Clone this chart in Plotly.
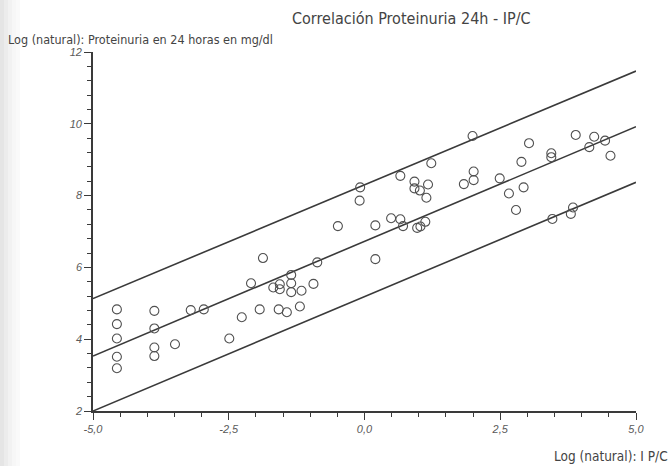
import plotly.graph_objects as go

# Log(natural) IP/C ratio vs. log(natural) 24h proteinuria
ipc_log = [
    -4.56, -4.56, -4.56, -4.56, -4.56,
    -3.87, -3.87, -3.87, -3.87,
    -3.49, -3.20, -2.96, -2.49, -2.26, -2.09, -1.93, -1.87,
    -1.68, -1.58, -1.56, -1.56, -1.43, -1.35, -1.35, -1.35,
    -1.19, -1.16, -0.94, -0.87, -0.49, -0.08, -0.09,
    0.20, 0.20, 0.49, 0.66, 0.66, 0.71, 0.92, 0.92, 0.97, 1.02,
    1.03, 1.12, 1.14, 1.17, 1.23, 1.83, 1.99, 2.01, 2.01,
    2.49, 2.66, 2.79, 2.89, 2.93, 3.03, 3.44, 3.44, 3.46,
    3.80, 3.84, 3.89, 4.14, 4.23, 4.43, 4.53,
]
prot_log = [
    4.83, 4.42, 4.02, 3.51, 3.19,
    4.79, 4.30, 3.77, 3.53,
    3.86, 4.81, 4.83, 4.02, 4.61, 5.56, 4.83, 6.26,
    5.44, 4.83, 5.53, 5.39, 4.75, 5.79, 5.56, 5.31,
    4.91, 5.35, 5.54, 6.14, 7.15, 8.23, 7.86,
    7.17, 6.23, 7.37, 8.55, 7.34, 7.15, 8.39, 8.20, 7.10, 8.14,
    7.14, 7.27, 7.94, 8.31, 8.90, 8.32, 9.66, 8.43, 8.67,
    8.48, 8.06, 7.60, 8.94, 8.23, 9.46, 9.18, 9.07, 7.35,
    7.49, 7.67, 9.69, 9.35, 9.64, 9.53, 9.11,
]

# Regression line and prediction band, evaluated at the axis ends
fit_x = [-5.0, 5.0]
fit_mid = [3.53, 9.92]
fit_upper = [5.13, 11.47]
fit_lower = [2.00, 8.37]

x_major = [-5.0, -2.5, 0.0, 2.5, 5.0]
x_major_text = ["-5,0", "-2,5", "0,0", "2,5", "5,0"]
y_major = [2, 4, 6, 8, 10, 12]
y_major_text = ["2", "4", "6", "8", "10", "12"]

FONT = "DejaVu Sans Condensed"
LINE = "#3a3a3a"
TICKFONT = dict(family="Liberation Sans", size=11, color="#5a5a5a")

fig = go.Figure()

for band in (fit_upper, fit_mid, fit_lower):
    fig.add_trace(go.Scatter(
        x=fit_x, y=band, mode="lines",
        line=dict(color=LINE, width=1.6),
        hoverinfo="skip", showlegend=False,
    ))

fig.add_trace(go.Scatter(
    x=ipc_log, y=prot_log, mode="markers",
    marker=dict(symbol="circle-open", size=9, color="#505050",
                line=dict(width=1.1, color="#505050")),
    showlegend=False,
))

fig.update_xaxes(
    range=[-5, 5], showgrid=False, zeroline=False,
    showline=True, linecolor=LINE, linewidth=1.6,
    ticks="outside", ticklen=7, tickwidth=1.4, tickcolor=LINE,
    tickvals=x_major, ticktext=x_major_text,
    tickfont=dict(TICKFONT, style="italic"),
    minor=dict(dtick=0.5, ticks="outside", ticklen=4, tickwidth=1.2, tickcolor=LINE),
)
fig.update_yaxes(
    range=[2, 12], showgrid=False, zeroline=False,
    showline=True, linecolor=LINE, linewidth=1.6,
    ticks="outside", ticklen=7, tickwidth=1.4, tickcolor=LINE,
    tickvals=y_major, ticktext=y_major_text,
    tickfont=dict(TICKFONT, style="italic"),
    minor=dict(dtick=0.4, tick0=2, ticks="outside", ticklen=4, tickwidth=1.2, tickcolor=LINE),
)

# faint grey edge along the left border
for i, op in enumerate([0.22, 0.16, 0.11, 0.07, 0.04]):
    fig.add_shape(type="rect", xref="paper", yref="paper",
                  x0=-93 / 543 + i * 4 / 543, x1=-93 / 543 + (i + 1) * 4 / 543,
                  y0=-55 / 359, y1=1 + 52 / 359,
                  fillcolor="#8a8a8a", opacity=op, line_width=0, layer="below")

fig.add_annotation(
    text="Correlación Proteinuria 24h - IP/C", xref="paper", yref="paper",
    x=(411 - 93) / 543, y=1 + (52 - 18) / 359, xanchor="center", yanchor="middle",
    showarrow=False, font=dict(family=FONT, size=16, color="#444444"),
)
fig.add_annotation(
    text="Log (natural): Proteinuria en 24 horas en mg/dl", xref="paper", yref="paper",
    x=(6 - 93) / 543, y=1 + (52 - 39) / 359, xanchor="left", yanchor="middle",
    showarrow=False, font=dict(family=FONT, size=12.5, color="#444444"),
)
fig.add_annotation(
    text="Log (natural): I P/C", xref="paper", yref="paper",
    x=(670 - 93) / 543, y=-(456 - 411) / 359, xanchor="right", yanchor="middle",
    showarrow=False, font=dict(family=FONT, size=13.5, color="#444444"),
)

fig.update_layout(
    width=670, height=466,
    margin=dict(l=93, r=34, t=52, b=55),
    paper_bgcolor="white", plot_bgcolor="white",
)

fig.write_html("out.html")
